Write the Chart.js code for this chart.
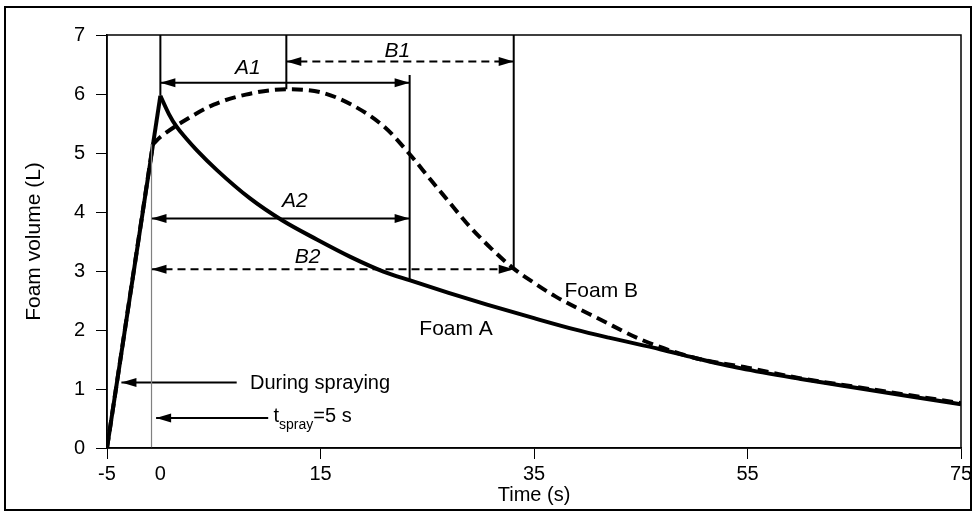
<!DOCTYPE html>
<html><head><meta charset="utf-8">
<script src="https://cdn.jsdelivr.net/npm/chart.js@4/dist/chart.umd.min.js"></script>
<style>html,body{margin:0;padding:0;background:#fff;} canvas{display:block;}</style>
</head><body>
<canvas id="c" width="977" height="523"></canvas>
<script>
// ---- data ----
const sprayTimeA = [-5, 0];
const sprayFoamA = [0, 5.97];
const timeA = [0, 0.8, 1.5, 2.4, 3.4, 5.3, 8.4, 11.4, 14.7, 17.8, 20.9, 23.4, 27, 30.6, 35, 38.8, 42, 46.9, 50, 54.4, 60, 63.8, 70, 75];
const foamA = [5.97, 5.66, 5.45, 5.25, 5.05, 4.71, 4.23, 3.86, 3.53, 3.24, 2.99, 2.84, 2.63, 2.43, 2.2, 2.01, 1.87, 1.67, 1.53, 1.35, 1.17, 1.06, 0.88, 0.74];
const sprayTimeB = [-5, -0.7];
const sprayFoamB = [0, 5.15];
const timeB = [-0.7, 0, 2, 5, 8, 11.8, 15, 18, 21, 23.4, 25.3, 27, 28.7, 31, 33.1, 35, 37, 41.3, 45, 50, 55, 60, 65, 70, 75];
const foamB = [5.15, 5.27, 5.52, 5.82, 5.99, 6.08, 6.03, 5.81, 5.44, 4.97, 4.55, 4.18, 3.81, 3.38, 3.04, 2.8, 2.57, 2.17, 1.84, 1.53, 1.36, 1.18, 1.04, 0.9, 0.76];
const xTickValues = [-5, 0, 15, 35, 55, 75];
const yTickValues = [0, 1, 2, 3, 4, 5, 6, 7];
// guide lines: [t1, v1, t2, v2]
const guideLines = [[0, 7, 0, 5.97], [11.8, 7, 11.8, 6.08], [23.35, 6.32, 23.35, 2.84], [33.1, 7, 33.1, 3.04]];
const sprayEndLine = [-0.83, 0, -0.83, 5.15];
// arrows: [from t, to t, level, dashed(1/0), head at start(1/0), head at end(1/0)]
const arrowSpecs = [
  [0, 23.35, 6.19, 0, 1, 1],
  [11.8, 33.1, 6.55, 1, 1, 1],
  [-0.83, 23.35, 3.89, 0, 1, 1],
  [-0.83, 33.1, 3.03, 1, 1, 1],
  [7.15, -3.65, 1.11, 0, 0, 1],
  [10.1, -0.4, 0.51, 0, 0, 1]
];
// text labels: [text, t, v, italic]
const textLabels = [
  ['A1', 8.2, 6.44, 1], ['B1', 22.2, 6.72, 1], ['A2', 12.6, 4.19, 1], ['B2', 13.8, 3.23, 1],
  ['Foam B', 41.3, 2.66, 0], ['Foam A', 27.7, 2.02, 0]
];
const duringLabel = ['During spraying', 8.4, 1.1];
const tsprayLabel = ['t', 'spray', '=5 s', 10.6, 0.53];

const FONT = 'Liberation Sans, Arial, sans-serif';
const pts = (ts, vs) => ts.map((t, i) => ({x: t, y: vs[i]}));

const datasets = [];
guideLines.forEach(g => datasets.push({data: [{x: g[0], y: g[1]}, {x: g[2], y: g[3]}], borderColor: '#000', borderWidth: 2, pointRadius: 0, tension: 0}));
datasets.push({data: [{x: sprayEndLine[0], y: sprayEndLine[1]}, {x: sprayEndLine[2], y: sprayEndLine[3]}], borderColor: '#808080', borderWidth: 1.2, pointRadius: 0});
arrowSpecs.forEach(a => datasets.push({
  data: [{x: a[0], y: a[2]}, {x: a[1], y: a[2]}], borderColor: '#000', borderWidth: 2, pointRadius: 0,
  borderDash: a[3] ? [8, 5] : [], arrowStart: !!a[4], arrowEnd: !!a[5]
}));
datasets.push({label: 'Foam B spraying', data: pts(sprayTimeB, sprayFoamB), borderColor: '#000', borderWidth: 4, borderDash: [11, 6], pointRadius: 0, tension: 0});
datasets.push({label: 'Foam B', data: pts(timeB, foamB), borderColor: '#000', borderWidth: 4, borderDash: [11, 6], pointRadius: 0, cubicInterpolationMode: 'monotone'});
datasets.push({label: 'Foam A spraying', data: pts(sprayTimeA, sprayFoamA), borderColor: '#000', borderWidth: 4, pointRadius: 0, tension: 0});
datasets.push({label: 'Foam A', data: pts(timeA, foamA), borderColor: '#000', borderWidth: 4, pointRadius: 0, cubicInterpolationMode: 'monotone'});

const annot = {
  id: 'annot',
  beforeDraw(chart) {
    const c = chart.ctx; c.save(); c.fillStyle = '#fff'; c.fillRect(0, 0, chart.width, chart.height); c.restore();
  },
  afterDatasetsDraw(chart) {
    const c = chart.ctx, xs = chart.scales.x, ys = chart.scales.y;
    c.save();
    chart.data.datasets.forEach((ds, i) => {
      if (!ds.arrowStart && !ds.arrowEnd) return;
      const m = chart.getDatasetMeta(i).data;
      const head = (tip, from) => {
        const dx = tip.x - from.x, dy = tip.y - from.y, L = Math.hypot(dx, dy) || 1;
        const ux = dx / L, uy = dy / L, len = 15, hw = 4.5;
        c.beginPath();
        c.moveTo(tip.x, tip.y);
        c.lineTo(tip.x - ux * len - uy * hw, tip.y - uy * len + ux * hw);
        c.lineTo(tip.x - ux * len + uy * hw, tip.y - uy * len - ux * hw);
        c.closePath(); c.fillStyle = '#000'; c.fill();
      };
      if (ds.arrowStart) head(m[0], m[1]);
      if (ds.arrowEnd) head(m[1], m[0]);
    });
    c.fillStyle = '#000'; c.textBaseline = 'middle';
    textLabels.forEach(l => {
      c.font = (l[3] ? 'italic ' : '') + '21px ' + FONT;
      c.textAlign = 'center';
      c.fillText(l[0], xs.getPixelForValue(l[1]), ys.getPixelForValue(l[2]));
    });
    c.font = '20px ' + FONT; c.textAlign = 'left';
    c.fillText(duringLabel[0], xs.getPixelForValue(duringLabel[1]), ys.getPixelForValue(duringLabel[2]));
    let x = xs.getPixelForValue(tsprayLabel[3]); const y = ys.getPixelForValue(tsprayLabel[4]);
    c.fillText(tsprayLabel[0], x, y); x += c.measureText(tsprayLabel[0]).width;
    c.font = '14px ' + FONT; c.fillText(tsprayLabel[1], x, y + 8); x += c.measureText(tsprayLabel[1]).width;
    c.font = '20px ' + FONT; c.fillText(tsprayLabel[2], x, y);
    c.restore();
  },
  afterDraw(chart) {
    const c = chart.ctx, a = chart.chartArea;
    c.save(); c.strokeStyle = '#000';
    c.lineWidth = 1.5; c.strokeRect(a.left, a.top, a.right - a.left, a.bottom - a.top);
    c.lineWidth = 2; c.strokeRect(5, 7, 966, 503);
    c.restore();
  }
};

new Chart(document.getElementById('c'), {
  type: 'line',
  data: {datasets},
  plugins: [annot],
  options: {
    responsive: false, animation: false, devicePixelRatio: 1,
    layout: {padding: {top: 35, right: 16, left: 0, bottom: 0}},
    plugins: {legend: {display: false}, tooltip: {enabled: false}},
    scales: {
      x: {
        type: 'linear', min: -5, max: 75,
        afterBuildTicks: s => { s.ticks = xTickValues.map(v => ({value: v})); },
        afterFit: s => { s.height = 75; },
        grid: {drawOnChartArea: false, drawTicks: true, tickLength: 11, tickWidth: 1,
               tickColor: ctx => (ctx.tick && ctx.tick.value === 0) ? 'rgba(0,0,0,0)' : '#000'},
        border: {display: true, color: '#000', width: 1.5},
        ticks: {color: '#000', font: {family: FONT, size: 20}, padding: 3, maxRotation: 0, autoSkip: false, callback: v => String(v)},
        title: {display: true, text: 'Time (s)', color: '#000', font: {family: FONT, size: 20}, padding: {top: 0, bottom: 16}}
      },
      y: {
        type: 'linear', min: 0, max: 7,
        afterBuildTicks: s => { s.ticks = yTickValues.map(v => ({value: v})); },
        afterFit: s => { s.width = 107; },
        grid: {drawOnChartArea: false, drawTicks: true, tickLength: 11, tickWidth: 1, tickColor: '#000'},
        border: {display: true, color: '#000', width: 1.5},
        ticks: {color: '#000', font: {family: FONT, size: 20}, padding: 11, callback: v => String(v)},
        title: {display: true, text: 'Foam volume (L)', color: '#000', font: {family: FONT, size: 21}, padding: {top: 22, bottom: 0}}
      }
    }
  }
});
</script>
</body></html>
